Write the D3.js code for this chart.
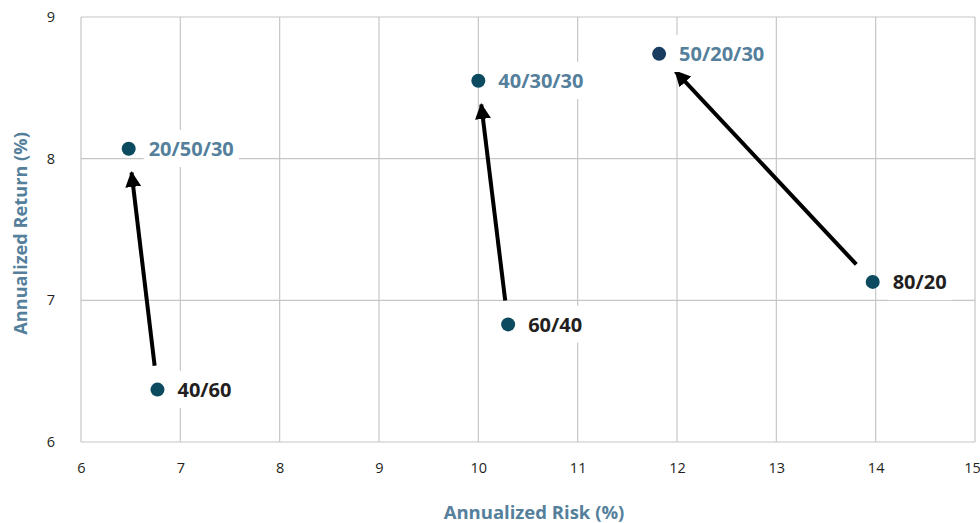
<!DOCTYPE html>
<html><head><meta charset="utf-8">
<script src="https://cdn.jsdelivr.net/npm/d3@7"></script>
<style>body{margin:0;background:#fff;} svg{display:block;font-family:"Open Sans","Noto Sans",sans-serif;}</style>
</head><body><svg id="c" width="980" height="523"></svg>
<script>
const names = ["40/60","60/40","80/20","20/50/30","40/30/30","50/20/30"];
const risk  = [6.77, 10.30, 13.97, 6.48, 10.00, 11.82];
const ret   = [6.37, 6.83, 7.13, 8.07, 8.55, 8.74];
const isNew = [false,false,false,true,true,true];
const arrowFrom = ["40/60","60/40","80/20"];
const arrowTo   = ["20/50/30","40/30/30","50/20/30"];
const xTicks = [6,7,8,9,10,11,12,13,14,15];
const yTicks = [6,7,8,9];

const svg = d3.select("#c");
const m = {l:81, r:5, t:17, b:81};
const W = 980, H = 523;
const x = d3.scaleLinear().domain([6,15]).range([m.l, W-m.r]);
const y = d3.scaleLinear().domain([6,9]).range([H-m.b, m.t]);

svg.append("defs").append("marker").attr("id","ah").attr("viewBox","0 0 10 10")
  .attr("refX",9).attr("refY",5).attr("markerWidth",4).attr("markerHeight",4.5)
  .attr("markerUnits","strokeWidth").attr("orient","auto")
  .append("path").attr("d","M0,0 L10,5 L0,10 Z").attr("fill","#000");

// grid
const g = svg.append("g");
g.selectAll(".vx").data(xTicks).join("line").attr("x1",d=>x(d)).attr("x2",d=>x(d))
  .attr("y1",y(6)).attr("y2",y(9)).attr("stroke","#c6c6c6").attr("stroke-width",1.2);
g.selectAll(".hy").data(yTicks).join("line").attr("y1",d=>y(d)).attr("y2",d=>y(d))
  .attr("x1",x(6)).attr("x2",x(15)).attr("stroke","#c6c6c6").attr("stroke-width",1.2);

// axes (tick labels only)
const xa = svg.append("g").attr("transform",`translate(0,${y(6)})`).call(d3.axisBottom(x).tickValues(xTicks).tickFormat(d3.format("d")).tickSize(0).tickPadding(21));
const ya = svg.append("g").attr("transform",`translate(${x(6)},0)`).call(d3.axisLeft(y).tickValues(yTicks).tickFormat(d3.format("d")).tickSize(0).tickPadding(26));
[xa,ya].forEach(a=>{a.select(".domain").remove(); a.selectAll("text").attr("font-size",14.5).attr("fill","#231f20").attr("font-family","'Open Sans',sans-serif");});
xa.selectAll("text").filter(d=>d===15).attr("dx",-3);

svg.append("text").attr("x",(x(6)+x(15))/2+6).attr("y",519).attr("text-anchor","middle")
  .attr("font-size",18.5).attr("font-weight","bold").attr("fill","#55809c").text("Annualized Risk (%)");
svg.append("text").attr("transform",`translate(27,${(y(6)+y(9))/2+4}) rotate(-90)`).attr("text-anchor","middle")
  .attr("font-size",18.2).attr("font-weight","bold").attr("fill","#55809c").text("Annualized Return (%)");

// arrows
const idx = n => names.indexOf(n);
arrowFrom.forEach((f,i)=>{
  const a = idx(f), b = idx(arrowTo[i]);
  const x1 = x(risk[a]), y1 = y(ret[a]), x2 = x(risk[b]), y2 = y(ret[b]);
  const L = Math.hypot(x2-x1,y2-y1), ux=(x2-x1)/L, uy=(y2-y1)/L;
  const s0 = 24, s1 = 24;
  svg.append("line").attr("x1",x1+ux*s0).attr("y1",y1+uy*s0).attr("x2",x2-ux*s1).attr("y2",y2-uy*s1)
    .attr("stroke","#000").attr("stroke-width",4).attr("marker-end","url(#ah)");
});

// labels with white boxes
names.forEach((n,i)=>{
  const lg = svg.append("g");
  const rect = lg.append("rect").attr("fill","#fff");
  const tx = x(risk[i]) + 20, ty = y(ret[i]);
  const t = lg.append("text").attr("x",tx).attr("y",ty).attr("dy","0.36em")
    .attr("font-size",20).attr("font-weight","bold").attr("fill",isNew[i]?"#55809c":"#231f20").text(n);
  const bb = t.node().getBBox();
  rect.attr("x",bb.x-5).attr("y",bb.y-5).attr("width",bb.width+10).attr("height",bb.height+10);
});

// points
svg.selectAll("circle").data(names).join("circle").attr("cx",(d,i)=>x(risk[i])).attr("cy",(d,i)=>y(ret[i]))
  .attr("r",7).attr("fill",(d,i)=>d==="50/20/30"?"#173c60":"#0c4a5f");
</script></body></html>
